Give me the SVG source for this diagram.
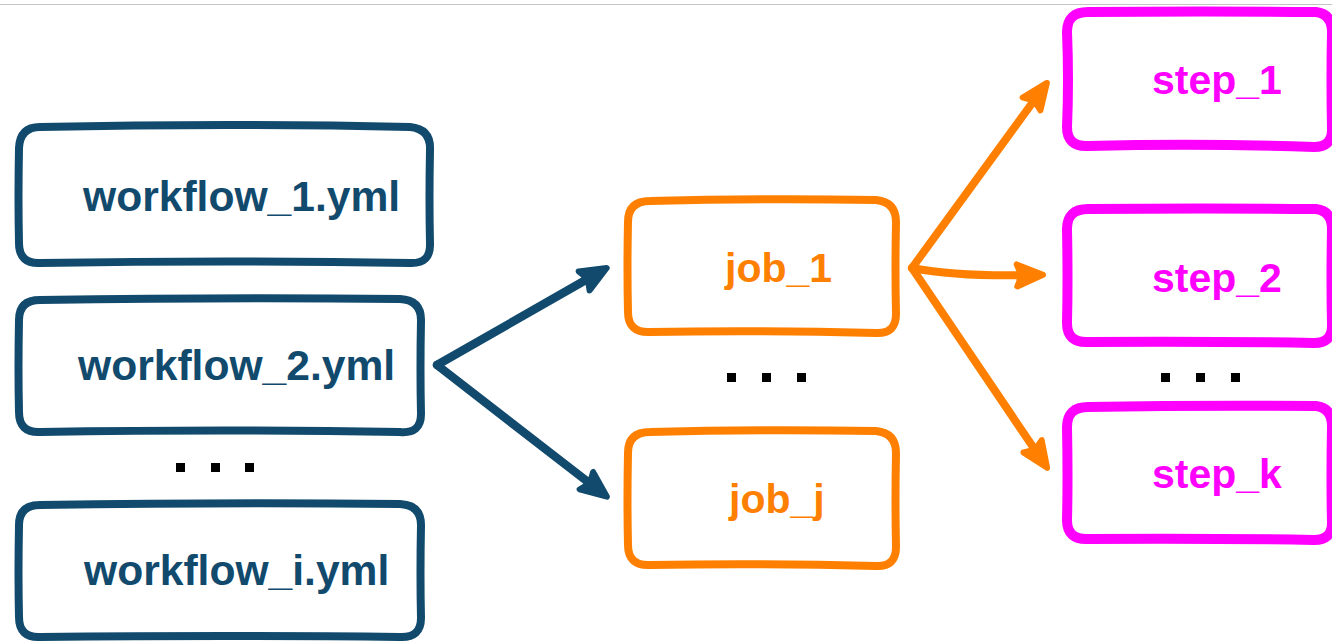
<svg xmlns="http://www.w3.org/2000/svg" width="1332" height="643" viewBox="0 0 1332 643">
<style>
.box{fill:none;stroke-linejoin:round;stroke-linecap:round}
.wf{stroke:#114a6d;stroke-width:8}
.jb{stroke:#ff8000;stroke-width:8}
.st{stroke:#ff00ff;stroke-width:10}
.t{font-family:"Liberation Sans",Arial,Helvetica,sans-serif;font-weight:bold;font-size:41px}
.twf{fill:#114a6d;font-size:42.6px}
.tjb{fill:#ff8000}
.tst{fill:#ff00ff}
.ab{fill:none;stroke:#114a6d;stroke-width:8.5;stroke-linecap:round;stroke-linejoin:round}
.ao{fill:none;stroke:#ff8000;stroke-width:8;stroke-linecap:round;stroke-linejoin:round}
.dot{fill:#000}
</style>
<defs>
<marker id="hb" markerUnits="userSpaceOnUse" markerWidth="50" markerHeight="50" viewBox="-34 -25 50 50" refX="0" refY="0" orient="auto" overflow="visible">
<path d="M10,0 L-16,-11 Q-10,0 -16,11 Z" fill="#114a6d" stroke="#114a6d" stroke-width="6" stroke-linejoin="round"/>
</marker>
<marker id="ho" markerUnits="userSpaceOnUse" markerWidth="50" markerHeight="50" viewBox="-34 -25 50 50" refX="0" refY="0" orient="auto" overflow="visible">
<path d="M10,0 L-16,-11 Q-10,0 -16,11 Z" fill="#ff8000" stroke="#ff8000" stroke-width="6" stroke-linejoin="round"/>
</marker>
</defs>
<rect width="1332" height="643" fill="#fff"/>
<line x1="0" y1="4.5" x2="1332" y2="4.5" stroke="#c4c4c4" stroke-width="1"/>

<g id="workflow_1">
<path class="box wf" d="M40,127 Q230,123 410,127 Q431,129 430,150 Q429,200 430,243 Q431,264 410,263 Q230,260 40,263 Q19,264 19,243 Q18,200 19,148 Q20,127 40,127 Z"/>
<text class="t twf" x="83" y="211">workflow_1.yml</text>
</g>
<g id="workflow_2">
<path class="box wf" d="M40,300 Q230,297 400,299 Q421,300 421,320 Q420,370 421,414 Q421,434 400,432 Q230,429 40,432 Q19,433 19,412 Q18,370 19,320 Q19,300 40,300 Z"/>
<text class="t twf" x="78" y="380">workflow_2.yml</text>
</g>
<g id="workflow_i">
<path class="box wf" d="M40,505 Q230,502 400,504 Q421,505 421,525 Q420,575 421,618 Q421,638 400,637 Q230,635 40,637 Q19,638 19,617 Q18,575 19,525 Q19,505 40,505 Z"/>
<text class="t twf" x="84" y="585">workflow_i.yml</text>
</g>
<g id="dots_workflow">
<rect class="dot" x="176" y="463" width="9" height="9"/>
<rect class="dot" x="211" y="463" width="9" height="9"/>
<rect class="dot" x="245" y="463" width="9" height="9"/>
</g>

<g id="job_1">
<path class="box jb" d="M650,201 Q760,198 876,200 Q896,202 896,222 Q895,270 896,314 Q896,334 876,333 Q760,330 650,332 Q628,333 628,312 Q627,270 628,222 Q628,201 650,201 Z"/>
<text class="t tjb" x="725" y="282">job_1</text>
</g>
<g id="job_j">
<path class="box jb" d="M650,432 Q760,429 876,431 Q896,433 896,453 Q895,500 896,547 Q896,567 876,566 Q760,563 650,565 Q628,566 628,545 Q627,500 628,453 Q628,432 650,432 Z"/>
<text class="t tjb" x="729" y="513">job_j</text>
</g>
<g id="dots_job">
<rect class="dot" x="727" y="373" width="9" height="9"/>
<rect class="dot" x="762" y="373" width="9" height="9"/>
<rect class="dot" x="797" y="373" width="9" height="9"/>
</g>

<g id="step_1">
<path class="box st" d="M1088,12 Q1200,11 1316,12 Q1332,14 1332,32 Q1331,80 1332,130 Q1332,147 1314,147 Q1200,143 1088,146 Q1067,147 1067,127 Q1069,80 1067,32 Q1067,12 1088,12 Z"/>
<text class="t tst" x="1152" y="94">step_1</text>
</g>
<g id="step_2">
<path class="box st" d="M1088,209 Q1200,208 1316,209 Q1332,211 1332,229 Q1331,280 1332,326 Q1332,343 1314,343 Q1200,341 1088,342 Q1067,343 1067,323 Q1068,280 1067,229 Q1067,209 1088,209 Z"/>
<text class="t tst" x="1152" y="292">step_2</text>
</g>
<g id="step_k">
<path class="box st" d="M1088,407 Q1200,405 1316,406 Q1332,408 1332,426 Q1331,480 1332,523 Q1332,540 1314,540 Q1200,538 1088,539 Q1067,540 1067,520 Q1068,480 1067,427 Q1067,407 1088,407 Z"/>
<text class="t tst" x="1152" y="488">step_k</text>
</g>
<g id="dots_step">
<rect class="dot" x="1161" y="373" width="9" height="9"/>
<rect class="dot" x="1196" y="373" width="9" height="9"/>
<rect class="dot" x="1231" y="373" width="9" height="9"/>
</g>

<g id="connectors">
<path class="ab" d="M437,365 L598,273" marker-end="url(#hb)"/>
<path class="ab" d="M437,365 L599,490.5" marker-end="url(#hb)"/>
<path class="ao" d="M912,268 L1041,91" marker-end="url(#ho)"/>
<path class="ao" d="M912,268 Q960,277 1033,275" marker-end="url(#ho)"/>
<path class="ao" d="M912,268 L1041.5,459.5" marker-end="url(#ho)"/>
</g>
</svg>
